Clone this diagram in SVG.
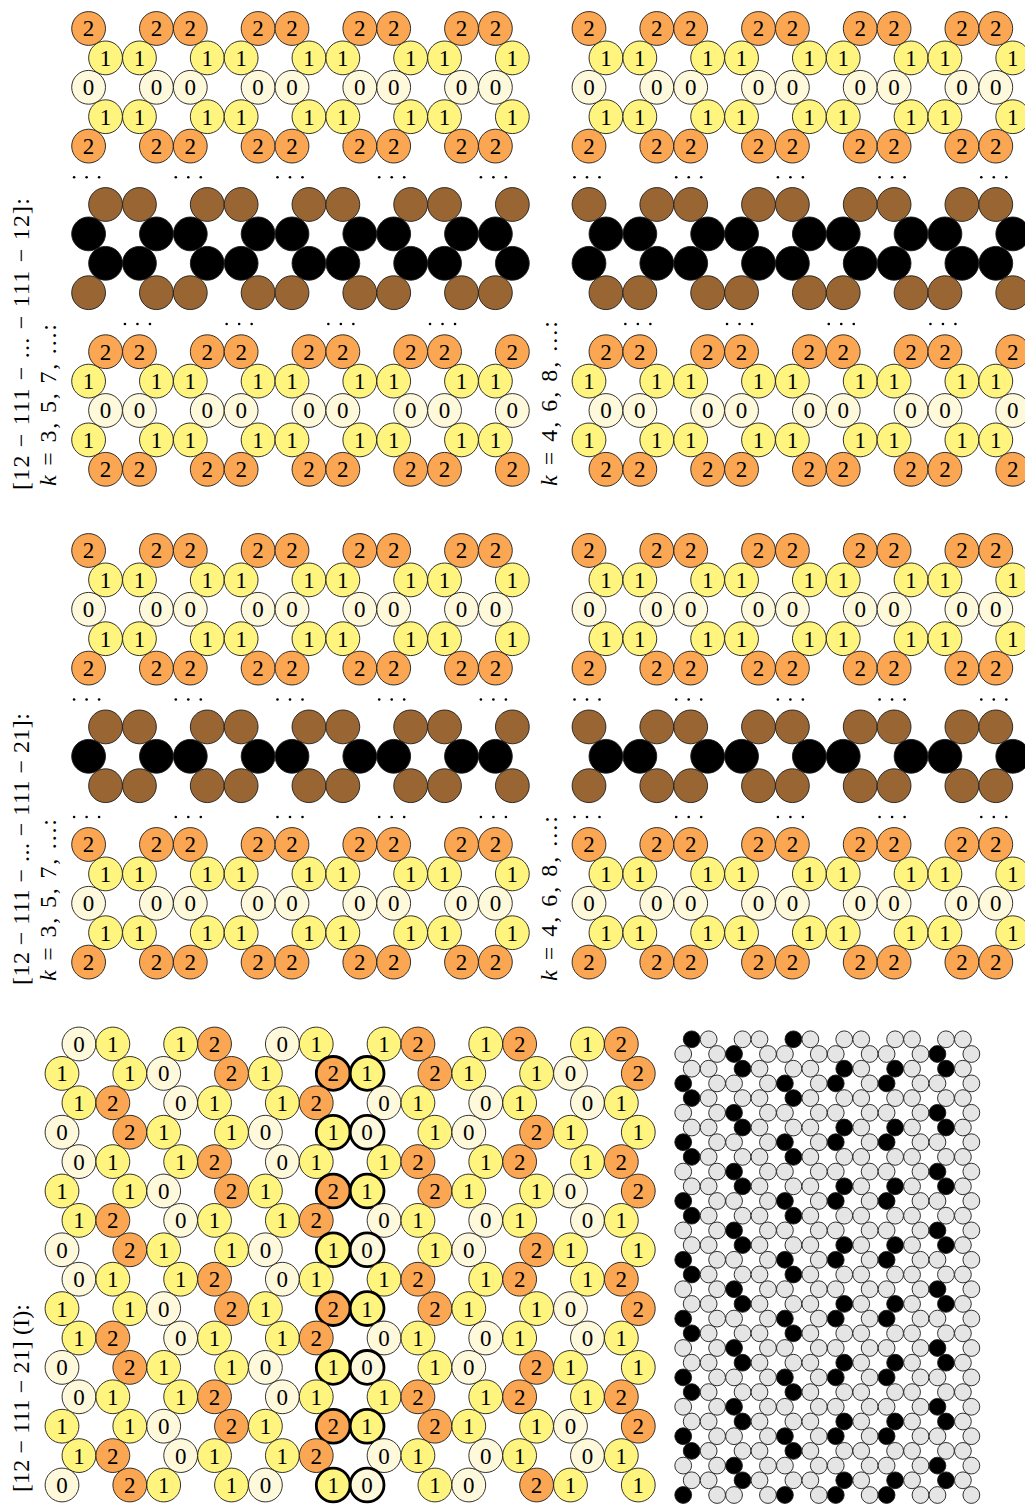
<svg xmlns="http://www.w3.org/2000/svg" width="1025" height="1505" viewBox="0 0 1025 1505">
<style>
circle{stroke:#1c1c1c;stroke-width:0.9}
.c2{fill:#FAA652}
.c1{fill:#FFF47E}
.c0{fill:#FFF9DC}
.cb{fill:#996633}
.ck{fill:#000}
.cg{fill:#E5E5E5}
.bold{stroke:#000;stroke-width:2.8}
.t{font-family:"Liberation Serif",serif;font-size:23px;text-anchor:middle;fill:#000}
.lab{font-family:"Liberation Serif",serif;font-size:24px;fill:#000}
.dot{fill:#000;stroke:none}
</style>
<defs>
<g id="u2"><circle r="16.9" class="c2"/><text y="7.9" class="t">2</text></g>
<g id="u1"><circle r="16.9" class="c1"/><text y="7.9" class="t">1</text></g>
<g id="u0"><circle r="16.9" class="c0"/><text y="7.9" class="t">0</text></g>
<g id="v2"><circle r="16.9" class="c2 bold"/><text y="7.9" class="t">2</text></g>
<g id="v1"><circle r="16.9" class="c1 bold"/><text y="7.9" class="t">1</text></g>
<g id="v0"><circle r="16.9" class="c0 bold"/><text y="7.9" class="t">0</text></g>
<circle id="ub" r="16.9" class="cb"/>
<circle id="uk" r="16.9" class="ck"/>
<circle id="sg" r="8.4" class="cg"/>
<circle id="sk" r="8.4" class="ck"/>
<g id="dots"><circle class="dot" cx="-12.5" r="1.3"/><circle class="dot" r="1.3"/><circle class="dot" cx="12.5" r="1.3"/></g>
<g id="N2"><use href="#u2" x="0"/><use href="#u2" x="67.8"/><use href="#u2" x="101.7"/><use href="#u2" x="169.5"/><use href="#u2" x="203.4"/><use href="#u2" x="271.2"/><use href="#u2" x="305.1"/><use href="#u2" x="372.9"/><use href="#u2" x="406.8"/></g>
<g id="N1"><use href="#u1" x="0"/><use href="#u1" x="67.8"/><use href="#u1" x="101.7"/><use href="#u1" x="169.5"/><use href="#u1" x="203.4"/><use href="#u1" x="271.2"/><use href="#u1" x="305.1"/><use href="#u1" x="372.9"/><use href="#u1" x="406.8"/></g>
<g id="N0"><use href="#u0" x="0"/><use href="#u0" x="67.8"/><use href="#u0" x="101.7"/><use href="#u0" x="169.5"/><use href="#u0" x="203.4"/><use href="#u0" x="271.2"/><use href="#u0" x="305.1"/><use href="#u0" x="372.9"/><use href="#u0" x="406.8"/></g>
<g id="Nb"><use href="#ub" x="0"/><use href="#ub" x="67.8"/><use href="#ub" x="101.7"/><use href="#ub" x="169.5"/><use href="#ub" x="203.4"/><use href="#ub" x="271.2"/><use href="#ub" x="305.1"/><use href="#ub" x="372.9"/><use href="#ub" x="406.8"/></g>
<g id="Nk"><use href="#uk" x="0"/><use href="#uk" x="67.8"/><use href="#uk" x="101.7"/><use href="#uk" x="169.5"/><use href="#uk" x="203.4"/><use href="#uk" x="271.2"/><use href="#uk" x="305.1"/><use href="#uk" x="372.9"/><use href="#uk" x="406.8"/></g>
<g id="O2"><use href="#u2" x="16.95"/><use href="#u2" x="50.85"/><use href="#u2" x="118.65"/><use href="#u2" x="152.55"/><use href="#u2" x="220.35"/><use href="#u2" x="254.25"/><use href="#u2" x="322.05"/><use href="#u2" x="355.95"/><use href="#u2" x="423.75"/></g>
<g id="O1"><use href="#u1" x="16.95"/><use href="#u1" x="50.85"/><use href="#u1" x="118.65"/><use href="#u1" x="152.55"/><use href="#u1" x="220.35"/><use href="#u1" x="254.25"/><use href="#u1" x="322.05"/><use href="#u1" x="355.95"/><use href="#u1" x="423.75"/></g>
<g id="O0"><use href="#u0" x="16.95"/><use href="#u0" x="50.85"/><use href="#u0" x="118.65"/><use href="#u0" x="152.55"/><use href="#u0" x="220.35"/><use href="#u0" x="254.25"/><use href="#u0" x="322.05"/><use href="#u0" x="355.95"/><use href="#u0" x="423.75"/></g>
<g id="Ob"><use href="#ub" x="16.95"/><use href="#ub" x="50.85"/><use href="#ub" x="118.65"/><use href="#ub" x="152.55"/><use href="#ub" x="220.35"/><use href="#ub" x="254.25"/><use href="#ub" x="322.05"/><use href="#ub" x="355.95"/><use href="#ub" x="423.75"/></g>
<g id="Ok"><use href="#uk" x="16.95"/><use href="#uk" x="50.85"/><use href="#uk" x="118.65"/><use href="#uk" x="152.55"/><use href="#uk" x="220.35"/><use href="#uk" x="254.25"/><use href="#uk" x="322.05"/><use href="#uk" x="355.95"/><use href="#uk" x="423.75"/></g>
<g id="secA"><use href="#N2" y="0"/><use href="#O1" y="29.4"/><use href="#N0" y="58.8"/><use href="#O1" y="88.2"/><use href="#N2" y="117.6"/></g>
<g id="secC"><use href="#O2" y="0"/><use href="#N1" y="29.4"/><use href="#O0" y="58.8"/><use href="#N1" y="88.2"/><use href="#O2" y="117.6"/></g>
<g id="dotsN"><use href="#dots" x="-2"/><use href="#dots" x="99.7"/><use href="#dots" x="201.4"/><use href="#dots" x="303.1"/><use href="#dots" x="404.8"/></g>
<g id="dotsO"><use href="#dots" x="48.85"/><use href="#dots" x="150.55"/><use href="#dots" x="252.25"/><use href="#dots" x="353.95"/></g>
<g id="bl1"><use href="#u0" x="78.95"/><use href="#u1" x="112.85"/><use href="#u1" x="180.65"/><use href="#u2" x="214.55"/><use href="#u0" x="282.35"/><use href="#u1" x="316.25"/><use href="#u1" x="384.05"/><use href="#u2" x="417.95"/><use href="#u1" x="485.75"/><use href="#u2" x="519.65"/><use href="#u1" x="587.45"/><use href="#u2" x="621.35"/></g>
<g id="bl2"><use href="#u1" x="62"/><use href="#u1" x="129.8"/><use href="#u0" x="163.7"/><use href="#u2" x="231.5"/><use href="#u1" x="265.4"/><use href="#v2" x="333.2"/><use href="#v1" x="367.1"/><use href="#u2" x="434.9"/><use href="#u1" x="468.8"/><use href="#u1" x="536.6"/><use href="#u0" x="570.5"/><use href="#u2" x="638.3"/></g>
<g id="bl3"><use href="#u1" x="78.95"/><use href="#u2" x="112.85"/><use href="#u0" x="180.65"/><use href="#u1" x="214.55"/><use href="#u1" x="282.35"/><use href="#u2" x="316.25"/><use href="#u0" x="384.05"/><use href="#u1" x="417.95"/><use href="#u0" x="485.75"/><use href="#u1" x="519.65"/><use href="#u0" x="587.45"/><use href="#u1" x="621.35"/></g>
<g id="bl4"><use href="#u0" x="62"/><use href="#u2" x="129.8"/><use href="#u1" x="163.7"/><use href="#u1" x="231.5"/><use href="#u0" x="265.4"/><use href="#v1" x="333.2"/><use href="#v0" x="367.1"/><use href="#u1" x="434.9"/><use href="#u0" x="468.8"/><use href="#u2" x="536.6"/><use href="#u1" x="570.5"/><use href="#u1" x="638.3"/></g>
<g id="blBlock"><use href="#bl1" y="0"/><use href="#bl2" y="29.4"/><use href="#bl3" y="58.8"/><use href="#bl4" y="88.2"/></g>
<g id="br0"><use href="#sk" x="691.7"/><use href="#sg" x="708.65"/><use href="#sg" x="742.55"/><use href="#sg" x="759.5"/><use href="#sk" x="793.4"/><use href="#sg" x="810.35"/><use href="#sg" x="844.25"/><use href="#sg" x="861.2"/><use href="#sg" x="895.1"/><use href="#sg" x="912.05"/><use href="#sg" x="945.95"/><use href="#sg" x="962.9"/></g>
<g id="br1"><use href="#sg" x="683.2"/><use href="#sg" x="717.1"/><use href="#sk" x="734.05"/><use href="#sg" x="767.95"/><use href="#sg" x="784.9"/><use href="#sg" x="818.8"/><use href="#sg" x="835.75"/><use href="#sg" x="869.65"/><use href="#sg" x="886.6"/><use href="#sg" x="920.5"/><use href="#sk" x="937.45"/><use href="#sg" x="971.35"/></g>
<g id="br2"><use href="#sg" x="691.7"/><use href="#sg" x="708.65"/><use href="#sk" x="742.55"/><use href="#sg" x="759.5"/><use href="#sg" x="793.4"/><use href="#sg" x="810.35"/><use href="#sk" x="844.25"/><use href="#sg" x="861.2"/><use href="#sk" x="895.1"/><use href="#sg" x="912.05"/><use href="#sk" x="945.95"/><use href="#sg" x="962.9"/></g>
<g id="br3"><use href="#sk" x="683.2"/><use href="#sg" x="717.1"/><use href="#sg" x="734.05"/><use href="#sg" x="767.95"/><use href="#sk" x="784.9"/><use href="#sg" x="818.8"/><use href="#sk" x="835.75"/><use href="#sg" x="869.65"/><use href="#sk" x="886.6"/><use href="#sg" x="920.5"/><use href="#sg" x="937.45"/><use href="#sg" x="971.35"/></g>
<g id="brBlock"><use href="#br0" y="0"/><use href="#br1" y="14.7"/><use href="#br2" y="29.4"/><use href="#br3" y="44.1"/></g>
</defs>
<rect width="1025" height="1505" fill="#fff"/>
<g id="panel-top-left">
<use href="#secA" x="88.6" y="28.5"/>
<use href="#dotsN" x="88.6" y="177.3"/>
<use href="#Ob" x="88.6" y="204.5"/>
<use href="#Nk" x="88.6" y="233.9"/>
<use href="#Ok" x="88.6" y="263.3"/>
<use href="#Nb" x="88.6" y="292.7"/>
<use href="#dotsO" x="88.6" y="324"/>
<use href="#secC" x="88.6" y="351.7"/>
</g>
<g id="panel-top-right">
<use href="#secA" x="589" y="28.5"/>
<use href="#dotsN" x="589" y="177.3"/>
<use href="#Nb" x="589" y="204.5"/>
<use href="#Ok" x="589" y="233.9"/>
<use href="#Nk" x="589" y="263.3"/>
<use href="#Ob" x="589" y="292.7"/>
<use href="#dotsO" x="589" y="324"/>
<use href="#secC" x="589" y="351.7"/>
</g>
<g id="panel-mid-left">
<use href="#secA" x="88.6" y="550.5"/>
<use href="#dotsN" x="88.6" y="699.5"/>
<use href="#Ob" x="88.6" y="726.9"/>
<use href="#Nk" x="88.6" y="756.3"/>
<use href="#Ob" x="88.6" y="785.7"/>
<use href="#dotsN" x="88.6" y="817"/>
<use href="#secA" x="88.6" y="844.5"/>
</g>
<g id="panel-mid-right">
<use href="#secA" x="589" y="550.5"/>
<use href="#dotsN" x="589" y="699.5"/>
<use href="#Nb" x="589" y="726.9"/>
<use href="#Ok" x="589" y="756.3"/>
<use href="#Nb" x="589" y="785.7"/>
<use href="#dotsN" x="589" y="817"/>
<use href="#secA" x="589" y="844.5"/>
</g>
<g id="panel-bottom-left">
<use href="#blBlock" y="1044"/>
<use href="#blBlock" y="1161.6"/>
<use href="#blBlock" y="1279.2"/>
<use href="#blBlock" y="1396.8"/>
</g>
<g id="panel-bottom-right">
<use href="#brBlock" y="1039.3"/>
<use href="#brBlock" y="1098.1"/>
<use href="#brBlock" y="1156.9"/>
<use href="#brBlock" y="1215.7"/>
<use href="#brBlock" y="1274.5"/>
<use href="#brBlock" y="1333.3"/>
<use href="#brBlock" y="1392.1"/>
<use href="#brBlock" y="1450.9"/>
</g>
<g id="labels">
<text class="lab" transform="translate(29,490) rotate(-90)" textLength="292" lengthAdjust="spacing">[12 − 111 − ... − 111 − 12]:</text>
<text class="lab" transform="translate(56,486) rotate(-90)" textLength="162" lengthAdjust="spacing"><tspan font-style="italic">k</tspan> = 3, 5, 7, ...:</text>
<text class="lab" transform="translate(557,486) rotate(-90)" textLength="165" lengthAdjust="spacing"><tspan font-style="italic">k</tspan> = 4, 6, 8, ...:</text>
<text class="lab" transform="translate(29,985) rotate(-90)" textLength="272" lengthAdjust="spacing">[12 − 111 − ... − 111 − 21]:</text>
<text class="lab" transform="translate(56,981) rotate(-90)" textLength="162" lengthAdjust="spacing"><tspan font-style="italic">k</tspan> = 3, 5, 7, ...:</text>
<text class="lab" transform="translate(557,981) rotate(-90)" textLength="165" lengthAdjust="spacing"><tspan font-style="italic">k</tspan> = 4, 6, 8, ...:</text>
<text class="lab" transform="translate(29,1492) rotate(-90)" textLength="188" lengthAdjust="spacing">[12 − 111 − 21] (I):</text>
</g>
</svg>
